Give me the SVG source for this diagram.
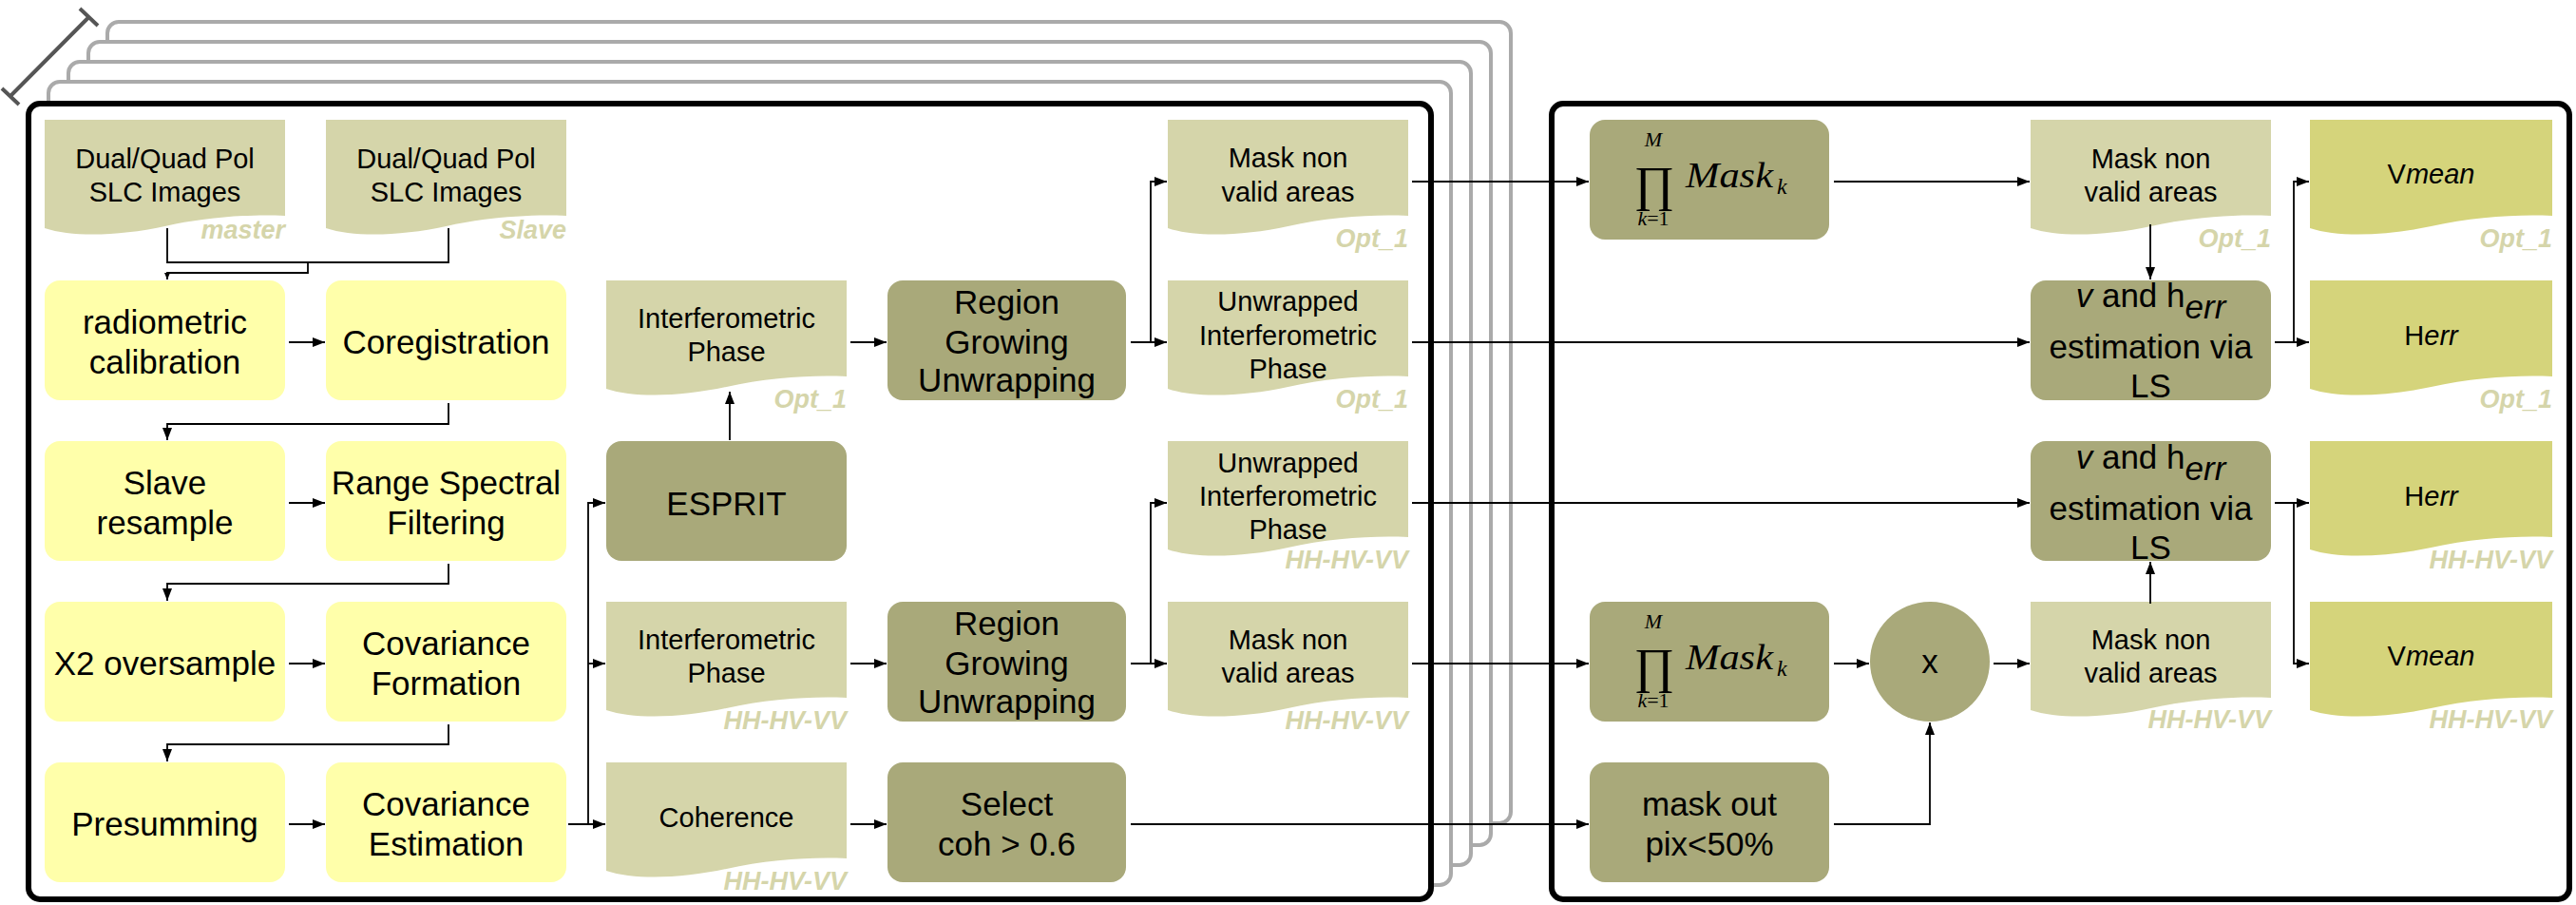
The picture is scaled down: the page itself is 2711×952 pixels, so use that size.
<svg xmlns="http://www.w3.org/2000/svg" width="2711" height="952" viewBox="0 0 2711 952">
<defs>
<style>
.frame{fill:#fff;stroke:#000;stroke-width:6}
.stack{fill:#fff;stroke:#aaa;stroke-width:4}
.yel{fill:#ffffaa}
.dark{fill:#a9a97a}
.doc{fill:#d5d5aa}
.out{fill:#d5d47b}
text{font-family:"Liberation Sans",Arial,sans-serif;text-anchor:middle;fill:#000}
.b{font-size:35px}
.d{font-size:29px}
.l{font-size:27px;font-weight:bold;font-style:italic;fill:#d5d5aa;text-anchor:end}
.m{font-family:"Liberation Serif","DejaVu Serif",serif;font-style:italic}
.m.st{text-anchor:start}
.m .n,.m.n{font-style:normal}
.i{font-style:italic}
.c{fill:none;stroke:#000;stroke-width:1.8}
.a{marker-end:url(#ah)}
.s{marker-end:url(#ahs)}
.dim{fill:none;stroke:#555;stroke-width:4}
</style>
<marker id="ah" viewBox="0 0 13 10" refX="13" refY="5" markerWidth="13" markerHeight="10" markerUnits="userSpaceOnUse" orient="auto"><path d="M0,0L13,5L0,10Z" fill="#000"/></marker>
<marker id="ahs" viewBox="0 0 7 6" refX="7" refY="3" markerWidth="7" markerHeight="6" markerUnits="userSpaceOnUse" orient="auto"><path d="M0,0L7,3L0,6Z" fill="#000"/></marker>
</defs>

<g id="stack">
<rect class="stack" x="113" y="23" width="1477" height="843" rx="12"/>
<rect class="stack" x="93" y="44" width="1476" height="845" rx="12"/>
<rect class="stack" x="72" y="65" width="1476" height="845" rx="12"/>
<rect class="stack" x="51" y="86" width="1476" height="845" rx="12"/>
<path class="dim" d="M11,101L93.5,18M2,93L20,110M84,9L103,27"/>
</g>
<g id="frame-left"><rect class="frame" x="30" y="109" width="1476" height="837" rx="12"/></g>
<g id="frame-right"><rect class="frame" x="1633" y="109" width="1071" height="837" rx="12"/></g>

<g id="master"><path class="doc" d="M47,126H300V227C267,225 217,228 173.5,238C127,248 77,250 47,240Z"/>
<text class="d" x="173.5" y="177">Dual/Quad Pol</text><text class="d" x="173.5" y="212">SLC Images</text><text class="l" x="300" y="251">master</text></g>
<g id="slave"><path class="doc" d="M343,126H596V227C563,225 513,228 469.5,238C423,248 373,250 343,240Z"/>
<text class="d" x="469.5" y="177">Dual/Quad Pol</text><text class="d" x="469.5" y="212">SLC Images</text><text class="l" x="596" y="251">Slave</text></g>

<g id="radiometric"><rect class="yel" x="47" y="295" width="253" height="126" rx="16"/><text class="b" x="173.5" y="351">radiometric</text><text class="b" x="173.5" y="393">calibration</text></g>
<g id="coreg"><rect class="yel" x="343" y="295" width="253" height="126" rx="16"/><text class="b" x="469.5" y="372">Coregistration</text></g>
<g id="slave-resample"><rect class="yel" x="47" y="464" width="253" height="126" rx="16"/><text class="b" x="173.5" y="520">Slave</text><text class="b" x="173.5" y="562">resample</text></g>
<g id="range"><rect class="yel" x="343" y="464" width="253" height="126" rx="16"/><text class="b" x="469.5" y="520">Range Spectral</text><text class="b" x="469.5" y="562">Filtering</text></g>
<g id="oversample"><rect class="yel" x="47" y="633" width="253" height="126" rx="16"/><text class="b" x="173.5" y="710">X2 oversample</text></g>
<g id="cov-form"><rect class="yel" x="343" y="633" width="253" height="126" rx="16"/><text class="b" x="469.5" y="689">Covariance</text><text class="b" x="469.5" y="731">Formation</text></g>
<g id="presumming"><rect class="yel" x="47" y="802" width="253" height="126" rx="16"/><text class="b" x="173.5" y="879">Presumming</text></g>
<g id="cov-est"><rect class="yel" x="343" y="802" width="253" height="126" rx="16"/><text class="b" x="469.5" y="858">Covariance</text><text class="b" x="469.5" y="900">Estimation</text></g>

<g id="interf-opt"><path class="doc" d="M638,295H891V396C858,394 808,397 764.5,407C718,417 668,419 638,409Z"/>
<text class="d" x="764.5" y="345">Interferometric</text><text class="d" x="764.5" y="380">Phase</text><text class="l" x="891" y="429">Opt_1</text></g>
<g id="esprit"><rect class="dark" x="638" y="464" width="253" height="126" rx="16"/><text class="b" x="764.5" y="542">ESPRIT</text></g>
<g id="interf-hh"><path class="doc" d="M638,633H891V734C858,732 808,735 764.5,745C718,755 668,757 638,747Z"/>
<text class="d" x="764.5" y="683">Interferometric</text><text class="d" x="764.5" y="718">Phase</text><text class="l" x="891" y="767">HH-HV-VV</text></g>
<g id="coherence"><path class="doc" d="M638,802H891V903C858,901 808,904 764.5,914C718,924 668,926 638,916Z"/>
<text class="d" x="764.5" y="870">Coherence</text><text class="l" x="891" y="936">HH-HV-VV</text></g>

<g id="region1"><rect class="dark" x="934" y="295" width="251" height="126" rx="16"/><text class="b" x="1059.5" y="330">Region</text><text class="b" x="1059.5" y="372">Growing</text><text class="b" x="1059.5" y="412">Unwrapping</text></g>
<g id="region2"><rect class="dark" x="934" y="633" width="251" height="126" rx="16"/><text class="b" x="1059.5" y="668">Region</text><text class="b" x="1059.5" y="710">Growing</text><text class="b" x="1059.5" y="750">Unwrapping</text></g>
<g id="select"><rect class="dark" x="934" y="802" width="251" height="126" rx="16"/><text class="b" x="1059.5" y="858">Select</text><text class="b" x="1059.5" y="900">coh &gt; 0.6</text></g>

<g id="mask-opt"><path class="doc" d="M1229,126H1482V227C1449,225 1399,228 1355.5,238C1309,248 1259,250 1229,240Z"/>
<text class="d" x="1355.5" y="176">Mask non</text><text class="d" x="1355.5" y="212">valid areas</text><text class="l" x="1482" y="260">Opt_1</text></g>
<g id="unwrapped-opt"><path class="doc" d="M1229,295H1482V396C1449,394 1399,397 1355.5,407C1309,417 1259,419 1229,409Z"/>
<text class="d" x="1355.5" y="327">Unwrapped</text><text class="d" x="1355.5" y="363">Interferometric</text><text class="d" x="1355.5" y="398">Phase</text><text class="l" x="1482" y="429">Opt_1</text></g>
<g id="unwrapped-hh"><path class="doc" d="M1229,464H1482V565C1449,563 1399,566 1355.5,576C1309,586 1259,588 1229,578Z"/>
<text class="d" x="1355.5" y="497">Unwrapped</text><text class="d" x="1355.5" y="532">Interferometric</text><text class="d" x="1355.5" y="567">Phase</text><text class="l" x="1482" y="598">HH-HV-VV</text></g>
<g id="mask-hh"><path class="doc" d="M1229,633H1482V734C1449,732 1399,735 1355.5,745C1309,755 1259,757 1229,747Z"/>
<text class="d" x="1355.5" y="683">Mask non</text><text class="d" x="1355.5" y="718">valid areas</text><text class="l" x="1482" y="767">HH-HV-VV</text></g>

<g id="prod1"><rect class="dark" x="1673" y="126" width="252" height="126" rx="16"/>
<text class="m" x="1740" y="154" font-size="22">M</text>
<text class="m n" x="1741" y="211" font-size="52">∏</text>
<text class="m st" x="1774" y="197" font-size="38" textLength="92" lengthAdjust="spacingAndGlyphs">Mask</text>
<text class="m st" x="1870" y="204" font-size="24">k</text>
<text class="m" x="1740" y="237" font-size="22">k<tspan class="n">=1</tspan></text></g>
<g id="prod2"><rect class="dark" x="1673" y="633" width="252" height="126" rx="16"/>
<text class="m" x="1740" y="661" font-size="22">M</text>
<text class="m n" x="1741" y="718" font-size="52">∏</text>
<text class="m st" x="1774" y="704" font-size="38" textLength="92" lengthAdjust="spacingAndGlyphs">Mask</text>
<text class="m st" x="1870" y="711" font-size="24">k</text>
<text class="m" x="1740" y="744" font-size="22">k<tspan class="n">=1</tspan></text></g>
<g id="maskout"><rect class="dark" x="1673" y="802" width="252" height="126" rx="16"/><text class="b" x="1799" y="858">mask out</text><text class="b" x="1799" y="900">pix&lt;50%</text></g>
<g id="times"><circle class="dark" cx="2031" cy="696" r="63"/><text class="b" x="2031" y="708">x</text></g>

<g id="mask-right-opt"><path class="doc" d="M2137,126H2390V227C2357,225 2307,228 2263.5,238C2217,248 2167,250 2137,240Z"/>
<text class="d" x="2263.5" y="177">Mask non</text><text class="d" x="2263.5" y="212">valid areas</text><text class="l" x="2390" y="260">Opt_1</text></g>
<g id="mask-right-hh"><path class="doc" d="M2137,633H2390V734C2357,732 2307,735 2263.5,745C2217,755 2167,757 2137,747Z"/>
<text class="d" x="2263.5" y="683">Mask non</text><text class="d" x="2263.5" y="718">valid areas</text><text class="l" x="2390" y="766">HH-HV-VV</text></g>
<g id="ls1"><rect class="dark" x="2137" y="295" width="253" height="126" rx="16"/>
<text class="b" x="2263.5" y="323"><tspan class="i">v</tspan> and h<tspan class="i" dy="12">err</tspan></text><text class="b" x="2263.5" y="377">estimation via</text><text class="b" x="2263.5" y="418">LS</text></g>
<g id="ls2"><rect class="dark" x="2137" y="464" width="253" height="126" rx="16"/>
<text class="b" x="2263.5" y="493"><tspan class="i">v</tspan> and h<tspan class="i" dy="12">err</tspan></text><text class="b" x="2263.5" y="547">estimation via</text><text class="b" x="2263.5" y="588">LS</text></g>

<g id="vmean-opt"><path class="out" d="M2431,126H2686V227C2653,225 2603,228 2558.5,238C2511,248 2461,250 2431,240Z"/>
<text class="d" x="2558.5" y="193">V<tspan class="i">mean</tspan></text><text class="l" x="2686" y="260">Opt_1</text></g>
<g id="herr-opt"><path class="out" d="M2431,295H2686V396C2653,394 2603,397 2558.5,407C2511,417 2461,419 2431,409Z"/>
<text class="d" x="2558.5" y="363">H<tspan class="i">err</tspan></text><text class="l" x="2686" y="429">Opt_1</text></g>
<g id="herr-hh"><path class="out" d="M2431,464H2686V565C2653,563 2603,566 2558.5,576C2511,586 2461,588 2431,578Z"/>
<text class="d" x="2558.5" y="532">H<tspan class="i">err</tspan></text><text class="l" x="2686" y="598">HH-HV-VV</text></g>
<g id="vmean-hh"><path class="out" d="M2431,633H2686V734C2653,732 2603,735 2558.5,745C2511,755 2461,757 2431,747Z"/>
<text class="d" x="2558.5" y="700">V<tspan class="i">mean</tspan></text><text class="l" x="2686" y="766">HH-HV-VV</text></g>

<g id="connectors">
<path class="c" d="M176,240V276H472V240"/>
<path class="c s" d="M324,276V287H176V294"/>
<path class="c a" d="M304,360H342"/>
<path class="c a" d="M472,424V446H176V463"/>
<path class="c a" d="M304,529H342"/>
<path class="c a" d="M472,593V614H176V632"/>
<path class="c a" d="M304,698H342"/>
<path class="c a" d="M472,762V783H176V801"/>
<path class="c a" d="M304,867H342"/>
<path class="c a" d="M598,867H637"/>
<path class="c a" d="M619,867V529H637"/>
<path class="c a" d="M619,698H637"/>
<path class="c a" d="M768,463V412"/>
<path class="c a" d="M895,360H933"/>
<path class="c a" d="M1190,360H1228"/>
<path class="c a" d="M1211,360V191H1228"/>
<path class="c a" d="M895,698H933"/>
<path class="c a" d="M1190,698H1228"/>
<path class="c a" d="M1211,698V529H1228"/>
<path class="c a" d="M895,867H933"/>
<path class="c a" d="M1190,867H1672"/>
<path class="c a" d="M1486,191H1672"/>
<path class="c a" d="M1486,360H2136"/>
<path class="c a" d="M1486,529H2136"/>
<path class="c a" d="M1486,698H1672"/>
<path class="c a" d="M1930,191H2136"/>
<path class="c a" d="M2263,236V294"/>
<path class="c a" d="M2394,360H2430"/>
<path class="c a" d="M2414,360V191H2430"/>
<path class="c a" d="M2394,529H2430"/>
<path class="c a" d="M2414,529V698H2430"/>
<path class="c a" d="M1930,698H1967"/>
<path class="c a" d="M2098,698H2136"/>
<path class="c a" d="M2263,635V591"/>
<path class="c a" d="M1930,867H2031V760"/>
</g>
</svg>
